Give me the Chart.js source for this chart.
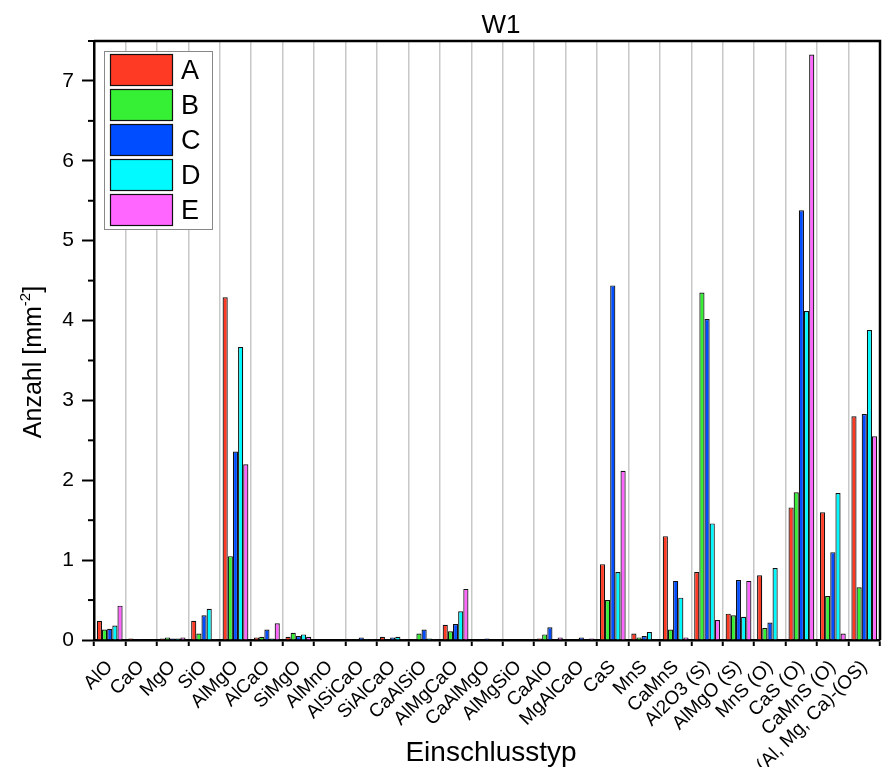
<!DOCTYPE html>
<html>
<head>
<meta charset="utf-8">
<title>W1</title>
<script src="https://cdn.jsdelivr.net/npm/chart.js@4.4.0/dist/chart.umd.min.js"></script>
<style>
  html, body { margin: 0; padding: 0; background: #fff; }
  #wrap { width: 885px; height: 767px; position: relative; }
</style>
</head>
<body>
<div id="wrap"><canvas id="chart"></canvas></div>
<script>
// Einschlusstypen und Anzahl je Probe (mm^-2)
const categories = ['AlO', 'CaO', 'MgO', 'SiO', 'AlMgO', 'AlCaO', 'SiMgO', 'AlMnO', 'AlSiCaO', 'SiAlCaO',
    'CaAlSiO', 'AlMgCaO', 'CaAlMgO', 'AlMgSiO', 'CaAlO', 'MgAlCaO', 'CaS', 'MnS', 'CaMnS',
    'Al2O3 (S)', 'AlMgO (S)', 'MnS (O)', 'CaS (O)', 'CaMnS (O)', '(Al, Mg, Ca)-(OS)'];

const seriesA = [0.24, 0.02, 0.02, 0.24, 4.29, 0.03, 0.04, 0, 0.01, 0.04, 0.01, 0.19, 0, 0, 0.02, 0, 0.95, 0.08, 1.30, 0.85, 0.33, 0.81, 1.66, 1.60, 2.80];
const seriesB = [0.13, 0, 0.03, 0.08, 1.05, 0.04, 0.09, 0, 0.01, 0, 0.08, 0.11, 0, 0, 0.07, 0, 0.50, 0.03, 0.13, 4.35, 0.31, 0.15, 1.85, 0.55, 0.66];
const seriesC = [0.14, 0.01, 0.02, 0.31, 2.36, 0.13, 0.05, 0, 0.03, 0.03, 0.13, 0.20, 0.02, 0, 0.16, 0.03, 4.44, 0.05, 0.74, 4.02, 0.75, 0.22, 5.38, 1.10, 2.83];
const seriesD = [0.18, 0, 0.02, 0.39, 3.67, 0.02, 0.07, 0, 0.01, 0.04, 0.02, 0.36, 0, 0, 0, 0, 0.85, 0.10, 0.53, 1.46, 0.29, 0.90, 4.12, 1.84, 3.88];
const seriesE = [0.43, 0, 0.03, 0.01, 2.20, 0.21, 0.04, 0, 0.01, 0.01, 0.01, 0.64, 0.005, 0, 0.03, 0.02, 2.12, 0, 0.03, 0.25, 0.74, 0.01, 7.33, 0.08, 2.55];

const seriesNames = ['A', 'B', 'C', 'D', 'E'];
const seriesColors = ['#ff3a24', '#35f035', '#004cff', '#00faff', '#ff66ff'];

const FONT = "'Liberation Sans', Arial, sans-serif";

// Rahmen oben/rechts wie bei Origin
const framePlugin = {
    id: 'frame',
    afterDraw(chart) {
        const { ctx, chartArea: a } = chart;
        ctx.save();
        ctx.strokeStyle = '#000';
        ctx.lineWidth = 2.5;
        ctx.beginPath();
        ctx.moveTo(a.left, a.top);
        ctx.lineTo(a.right, a.top);
        ctx.lineTo(a.right, a.bottom);
        ctx.stroke();
        ctx.restore();
    }
};

// kurze Zwischenstriche bei x.5
const minorTicksPlugin = {
    id: 'minorTicks',
    afterDraw(chart) {
        const { ctx, chartArea: a, scales } = chart;
        const y = scales.y;
        ctx.save();
        ctx.strokeStyle = '#000';
        ctx.lineWidth = 2;
        for (let v = 0.5; v <= y.max + 1e-6; v += 1) {
            const py = y.getPixelForValue(v);
            ctx.beginPath();
            ctx.moveTo(a.left - 6, py);
            ctx.lineTo(a.left, py);
            ctx.stroke();
        }
        ctx.restore();
    }
};

// Titel, Achsentitel (mit Hochstellung) und Legende
const textPlugin = {
    id: 'texts',
    afterDraw(chart) {
        const { ctx } = chart;
        ctx.save();
        ctx.fillStyle = '#000';

        ctx.font = '26px ' + FONT;
        ctx.textAlign = 'center';
        ctx.textBaseline = 'alphabetic';
        ctx.fillText('W1', 501, 33);

        ctx.font = '28px ' + FONT;
        ctx.fillText('Einschlusstyp', 491, 761);

        // y-Achsentitel
        ctx.save();
        ctx.translate(41, 362);
        ctx.rotate(-Math.PI / 2);
        ctx.textAlign = 'left';
        const main = 'Anzahl [mm';
        const sup = '-2';
        ctx.font = '25px ' + FONT;
        const w1 = ctx.measureText(main).width;
        const w3 = ctx.measureText(']').width;
        ctx.font = '15px ' + FONT;
        const w2 = ctx.measureText(sup).width;
        const x0 = -(w1 + w2 + w3) / 2;
        ctx.font = '25px ' + FONT;
        ctx.fillText(main, x0, 0);
        ctx.font = '15px ' + FONT;
        ctx.fillText(sup, x0 + w1, -11);
        ctx.font = '25px ' + FONT;
        ctx.fillText(']', x0 + w1 + w2, 0);
        ctx.restore();

        // Legende
        ctx.fillStyle = '#fff';
        ctx.fillRect(104.5, 51.5, 108, 178);
        ctx.strokeStyle = '#888';
        ctx.lineWidth = 1;
        ctx.strokeRect(104.5, 51.5, 108, 178);
        ctx.font = '27px ' + FONT;
        ctx.textAlign = 'left';
        ctx.textBaseline = 'middle';
        seriesNames.forEach((name, i) => {
            const top = 54.5 + i * 35;
            ctx.fillStyle = seriesColors[i];
            ctx.fillRect(110.5, top, 62, 31);
            ctx.strokeStyle = '#111';
            ctx.lineWidth = 1.2;
            ctx.strokeRect(110.5, top, 62, 31);
            ctx.fillStyle = '#000';
            ctx.fillText(name, 181, top + 17);
        });
        ctx.restore();
    }
};

const seriesData = [seriesA, seriesB, seriesC, seriesD, seriesE];

new Chart(document.getElementById('chart'), {
    type: 'bar',
    data: {
        labels: categories,
        datasets: seriesData.map((d, i) => ({
            label: seriesNames[i],
            data: d,
            backgroundColor: seriesColors[i],
            borderColor: '#111',
            borderWidth: 1.2,
            barPercentage: 1,
            categoryPercentage: 0.82
        }))
    },
    options: {
        responsive: true,
        maintainAspectRatio: false,
        animation: false,
        layout: { padding: { top: 41, right: 5, left: 0, bottom: 0 } },
        plugins: {
            legend: { display: false },
            tooltip: { enabled: false },
            title: { display: false }
        },
        scales: {
            x: {
                offset: true,
                grid: {
                    offset: true,
                    color: '#c8c8c8',
                    lineWidth: 1.5,
                    tickColor: '#000',
                    tickWidth: 2,
                    tickLength: 6
                },
                border: { color: '#000', width: 2.5 },
                ticks: {
                    color: '#000',
                    font: { size: 19, family: FONT },
                    maxRotation: 45,
                    minRotation: 45,
                    autoSkip: false,
                    padding: 10
                },
                afterFit(scale) {
                    scale.height = 127;
                    scale.paddingLeft = 0;
                    scale.paddingRight = 0;
                }
            },
            y: {
                min: 0,
                max: 7.5,
                grid: {
                    drawOnChartArea: false,
                    tickColor: '#000',
                    tickWidth: 2,
                    tickLength: 12
                },
                border: { color: '#000', width: 2.5 },
                ticks: {
                    stepSize: 1,
                    includeBounds: false,
                    color: '#000',
                    font: { size: 21, family: FONT },
                    padding: 8
                },
                afterFit(scale) {
                    scale.width = 94;
                    scale.paddingTop = 0;
                    scale.paddingBottom = 0;
                }
            }
        }
    },
    plugins: [framePlugin, minorTicksPlugin, textPlugin]
});
</script>
</body>
</html>
